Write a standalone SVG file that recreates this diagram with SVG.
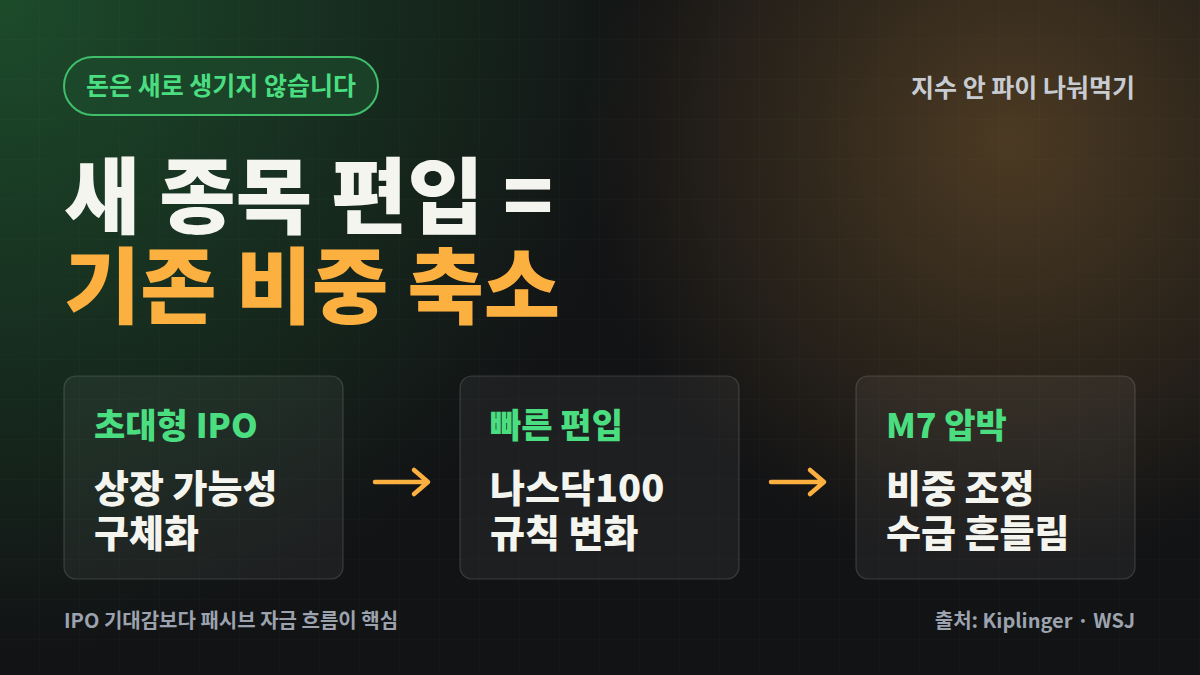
<svg xmlns="http://www.w3.org/2000/svg" width="1200" height="675" viewBox="0 0 1200 675">
<defs>
<radialGradient id="g1" cx="0" cy="0" r="650" gradientUnits="userSpaceOnUse"><stop offset="0" stop-color="#1f5a30" stop-opacity="0.8"/><stop offset="1" stop-color="#1f5a30" stop-opacity="0"/></radialGradient>
<radialGradient id="g2" cx="1010" cy="140" r="430" gradientUnits="userSpaceOnUse"><stop offset="0" stop-color="#5a4426" stop-opacity="0.8"/><stop offset="1" stop-color="#5a4426" stop-opacity="0"/></radialGradient>
<pattern id="grid" width="40" height="40" patternUnits="userSpaceOnUse"><path d="M40 0V40H0" fill="none" stroke="#ffffff" stroke-opacity="0.025"/></pattern>
<style>
text{font-family:"Noto Sans CJK KR","Noto Sans",sans-serif;font-weight:700}
.card{fill:#ffffff;fill-opacity:0.05;stroke:#ffffff;stroke-opacity:0.15;stroke-width:1.2}
.lab{fill:#4ade80;font-size:34px;font-weight:800}
.main{fill:#f5f5f0;font-size:38px;font-weight:800}
.foot{fill:#9ca3af;font-size:20px}
.arr{stroke:#fbb040;stroke-width:4.5;fill:none;stroke-linecap:round;stroke-linejoin:round}
</style>
</defs>
<rect width="1200" height="675" fill="#121315"/>
<rect width="1200" height="675" fill="url(#g1)"/>
<rect width="1200" height="675" fill="url(#g2)"/>
<rect width="1200" height="675" fill="url(#grid)"/>
<g id="pill"><rect x="64" y="57" width="314" height="58" rx="29" fill="#1d4a2c" fill-opacity="0.7" stroke="#3fbf6a" stroke-width="2"/>
<text x="221" y="95" text-anchor="middle" font-size="25" fill="#4ade80">돈은 새로 생기지 않습니다</text></g>
<text x="1135" y="97" text-anchor="end" font-size="25" fill="#c8ccd2">지수 안 파이 나눠먹기</text>
<text x="64" y="227" font-size="83" fill="#f5f5f0" style="font-weight:900">새 종목 편입 =</text>
<text x="64" y="317" font-size="83" fill="#fbb040" style="font-weight:900">기존 비중 축소</text>
<g id="card1"><rect class="card" x="64" y="376" width="279" height="203" rx="12"/>
<text class="lab" x="94" y="438">초대형 IPO</text>
<text class="main" x="94" y="502">상장 가능성</text><text class="main" x="94" y="547">구체화</text></g>
<g id="card2"><rect class="card" x="460" y="376" width="279" height="203" rx="12"/>
<text class="lab" x="490" y="438">빠른 편입</text>
<text class="main" x="490" y="502">나스닥100</text><text class="main" x="490" y="547">규칙 변화</text></g>
<g id="card3"><rect class="card" x="856" y="376" width="279" height="203" rx="12"/>
<text class="lab" x="886" y="438">M7 압박</text>
<text class="main" x="886" y="502">비중 조정</text><text class="main" x="886" y="547">수급 흔들림</text></g>
<g id="connectors">
<path class="arr" d="M375 482H427M414 470L428 482L414 494"/>
<path class="arr" d="M771 482H823M810 470L824 482L810 494"/>
</g>
<text class="foot" x="64" y="628">IPO 기대감보다 패시브 자금 흐름이 핵심</text>
<text class="foot" x="1135" y="628" text-anchor="end">출처: Kiplinger · WSJ</text>
</svg>
